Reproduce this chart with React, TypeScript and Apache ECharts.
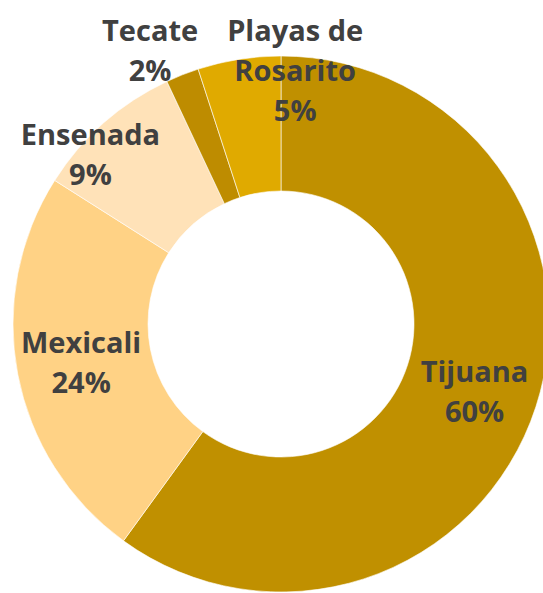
import React, { useEffect, useRef } from "react";
import * as echarts from "echarts";

const categories = ["Tijuana", "Mexicali", "Ensenada", "Tecate", "Playas de\nRosarito"];
const values = [60, 24, 9, 2, 5];
const colors = ["#C09000", "#FFD285", "#FFE2B8", "#BE8C00", "#E0AA00"];
const labelOffsets: [number, number][] = [[0, 4], [0, -1], [-56, -18], [-56, -85], [46, -54]];

export default function App() {
  const ref = useRef<HTMLDivElement>(null);
  useEffect(() => {
    document.body.style.margin = "0";
    const chart = echarts.init(ref.current!, null, { renderer: "svg" });
    chart.setOption({
      animation: false,
      backgroundColor: "#ffffff",
      series: [
        {
          type: "pie",
          center: [281, 324],
          radius: [133, 268],
          startAngle: 90,
          clockwise: true,
          avoidLabelOverlap: false,
          itemStyle: { borderColor: "#ffffff", borderWidth: 0.6 },
          label: {
            show: true,
            position: "inside",
            formatter: (p: any) => `${p.name}\n${p.value}%`,
            color: "#404040",
            fontFamily: "Open Sans",
            fontWeight: "bold",
            fontSize: 29,
            lineHeight: 40,
          },
          labelLine: { show: false },
          data: categories.map((name, i) => ({
            name,
            value: values[i],
            itemStyle: { color: colors[i] },
            label: { offset: labelOffsets[i] },
          })),
        },
      ],
    });
    return () => chart.dispose();
  }, []);
  return <div ref={ref} style={{ width: 543, height: 593 }} />;
}
